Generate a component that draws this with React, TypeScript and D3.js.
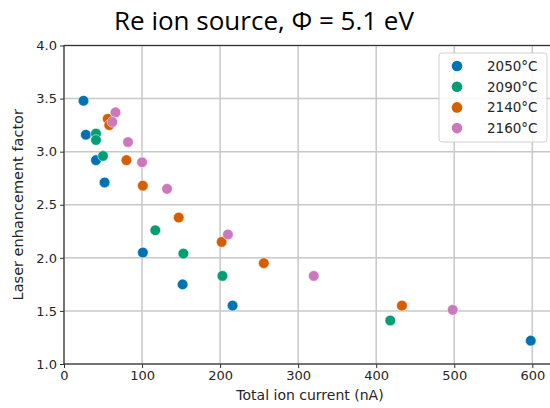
import React, { useEffect, useRef } from 'react';
import * as d3 from 'd3';

const temps = ['2050°C', '2090°C', '2140°C', '2160°C'];
const colors = ['#0173b2', '#029e73', '#d55e00', '#cc78bc'];

const current2050 = [25, 28, 41, 52, 101, 152, 216, 598];
const factor2050 = [3.48, 3.16, 2.92, 2.71, 2.05, 1.75, 1.55, 1.22];

const current2090 = [41, 41, 50, 117, 153, 203, 418];
const factor2090 = [3.17, 3.11, 2.96, 2.26, 2.04, 1.83, 1.41];

const current2140 = [56, 58, 80, 101, 147, 202, 256, 433];
const factor2140 = [3.31, 3.25, 2.92, 2.68, 2.38, 2.15, 1.95, 1.55];

const current2160 = [66, 62, 82, 100, 132, 210, 320, 498];
const factor2160 = [3.37, 3.28, 3.09, 2.9, 2.65, 2.22, 1.83, 1.51];

const xTicks = [0, 100, 200, 300, 400, 500, 600];
const yTicks = [1.0, 1.5, 2.0, 2.5, 3.0, 3.5, 4.0];

const App = () => {
  const ref = useRef<SVGSVGElement>(null);

  useEffect(() => {
    const width = 550;
    const height = 408;
    const svg = d3.select(ref.current);
    svg.selectAll('*').remove();
    svg.attr('width', width).attr('height', height);

    const x = d3.scaleLinear().domain([0, 625]).range([64, 64 + 625 * 0.7805]);
    const y = d3.scaleLinear().domain([1, 4]).range([364, 45.5]);

    svg.append('text')
      .attr('x', 264)
      .attr('y', 30)
      .attr('text-anchor', 'middle')
      .style('font-family', 'Open Sans')
      .style('font-size', '26px')
      .attr('fill', '#000')
      .text('Re ion source, Φ = 5.1 eV');

    const g = svg.append('g');

    // grid
    g.selectAll('.xgrid').data(xTicks).enter().append('line')
      .attr('x1', d => x(d)).attr('x2', d => x(d))
      .attr('y1', y(1)).attr('y2', y(4))
      .attr('stroke', '#c8c8c8').attr('stroke-width', 1.5);
    g.selectAll('.ygrid').data(yTicks).enter().append('line')
      .attr('x1', x(0)).attr('x2', x(625))
      .attr('y1', d => y(d)).attr('y2', d => y(d))
      .attr('stroke', '#c8c8c8').attr('stroke-width', 1.5);

    // spines
    g.append('rect')
      .attr('x', x(0)).attr('y', y(4))
      .attr('width', x(625) - x(0)).attr('height', y(1) - y(4))
      .attr('fill', 'none').attr('stroke', '#333').attr('stroke-width', 1.2);

    const xAxis = g.append('g')
      .attr('transform', `translate(0,${y(1)})`)
      .call(d3.axisBottom(x).tickValues(xTicks).tickSize(4).tickPadding(3).tickFormat(d3.format('d')));
    const yAxis = g.append('g')
      .attr('transform', `translate(${x(0)},0)`)
      .call(d3.axisLeft(y).tickValues(yTicks).tickSize(4).tickPadding(3).tickFormat(d3.format('.1f')));
    [xAxis, yAxis].forEach(a => {
      a.select('.domain').remove();
      a.selectAll('line').attr('stroke', '#333');
      a.selectAll('text')
        .style('font-family', 'DejaVu Sans')
        .style('font-size', '13px')
        .attr('fill', '#262626');
    });

    svg.append('text')
      .attr('x', 310).attr('y', 400)
      .attr('text-anchor', 'middle')
      .style('font-family', 'DejaVu Sans').style('font-size', '14px')
      .attr('fill', '#262626')
      .text('Total ion current (nA)');
    svg.append('text')
      .attr('transform', `translate(23,${(y(1) + y(4)) / 2}) rotate(-90)`)
      .attr('text-anchor', 'middle')
      .style('font-family', 'DejaVu Sans').style('font-size', '14.5px')
      .attr('fill', '#262626')
      .text('Laser enhancement factor');

    const series = [
      [current2050, factor2050],
      [current2090, factor2090],
      [current2140, factor2140],
      [current2160, factor2160],
    ];
    series.forEach(([xs, ys], i) => {
      g.append('g').selectAll('circle').data(xs).enter().append('circle')
        .attr('cx', d => x(d))
        .attr('cy', (_d, j) => y(ys[j]))
        .attr('r', 5.3)
        .attr('fill', colors[i])
        .attr('stroke', '#fff')
        .attr('stroke-width', 0.5);
    });

    // legend
    const lg = svg.append('g');
    lg.append('rect')
      .attr('x', 439).attr('y', 53)
      .attr('width', 108).attr('height', 89)
      .attr('rx', 3)
      .attr('fill', '#fff').attr('fill-opacity', 0.85)
      .attr('stroke', '#d0d0d0');
    temps.forEach((t, i) => {
      const yy = 66 + i * 20.7;
      lg.append('circle')
        .attr('cx', 457).attr('cy', yy).attr('r', 5.3)
        .attr('fill', colors[i]);
      lg.append('text')
        .attr('x', 487).attr('y', yy + 4.8)
        .style('font-family', 'DejaVu Sans').style('font-size', '13.5px')
        .attr('fill', '#262626')
        .text(t);
    });
  });

  return <svg ref={ref} style={{ position: 'absolute', left: 0, top: 0 }}></svg>;
};

export default App;
